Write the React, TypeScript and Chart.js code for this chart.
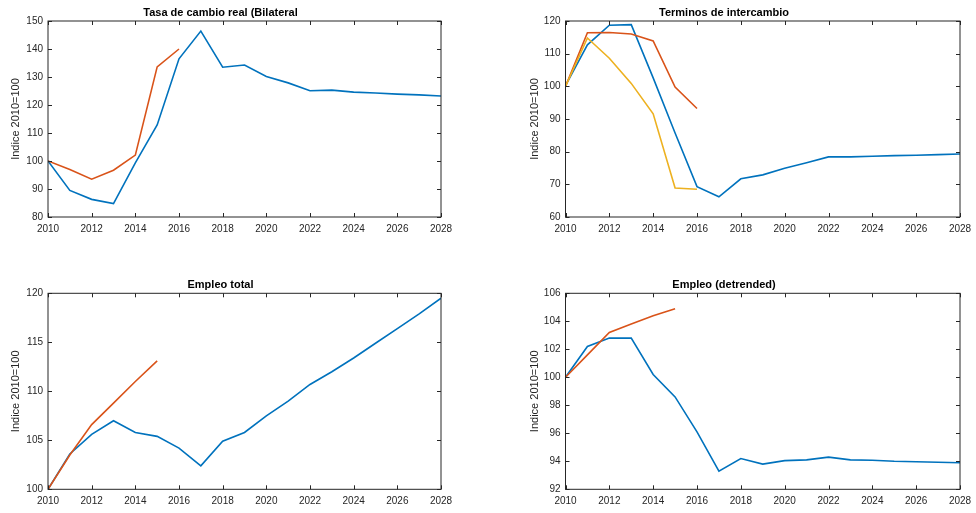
import React, { useEffect, useRef } from "react";
import { Chart, registerables } from "chart.js";

Chart.register(...registerables);

const years = [2010, 2011, 2012, 2013, 2014, 2015, 2016, 2017, 2018, 2019, 2020, 2021, 2022, 2023, 2024, 2025, 2026, 2027, 2028];

// Tasa de cambio real (Bilateral)
const tcrBlue = [100, 89.5, 86.3, 84.8, 99.3, 112.9, 136.5, 146.4, 133.5, 134.3, 130.2, 127.9, 125.1, 125.3, 124.6, 124.3, 123.9, 123.6, 123.2];
const tcrOrange = [100, 97.0, 93.5, 96.7, 102.1, 133.6, 140.0];

// Terminos de intercambio
const tdiBlue = [100.2, 112.7, 118.7, 118.9, 102.6, 85.7, 69.3, 66.2, 71.7, 72.9, 74.9, 76.6, 78.4, 78.4, 78.6, 78.8, 78.9, 79.1, 79.3];
const tdiOrange = [100, 116.4, 116.5, 116.0, 113.9, 99.8, 93.2];
const tdiYellow = [100, 114.8, 108.6, 100.9, 91.6, 68.9, 68.5];

// Empleo total
const empBlue = [100, 103.6, 105.6, 107.0, 105.8, 105.4, 104.2, 102.4, 104.9, 105.8, 107.5, 109.0, 110.7, 112.0, 113.4, 114.9, 116.4, 117.9, 119.5];
const empOrange = [100, 103.5, 106.6, 108.8, 111.0, 113.1];

// Empleo (detrended)
const detBlue = [100, 102.2, 102.8, 102.8, 100.2, 98.6, 96.1, 93.3, 94.2, 93.8, 94.05, 94.1, 94.3, 94.1, 94.07, 94.0, 93.97, 93.93, 93.9];
const detOrange = [100, 101.6, 103.2, 103.8, 104.4, 104.9];

const BLUE = "#0072BD";
const ORANGE = "#D95319";
const YELLOW = "#EDB120";
const AXIS = "#262626";
const FONT = "'Liberation Sans', Arial, Helvetica, sans-serif";

type Series = { values: number[]; color: string };

type Panel = {
  title: string;
  canvas: { l: number; t: number; w: number; h: number };
  plot: { l: number; r: number; t: number; b: number };
  titleY: number;
  axisTitleX: number;
  yMin: number;
  yMax: number;
  yStep: number;
  series: Series[];
};

const panels: Panel[] = [
  {
    title: "Tasa de cambio real (Bilateral",
    canvas: { l: 0, t: 0, w: 488, h: 256 },
    plot: { l: 48, r: 441, t: 21, b: 217 },
    titleY: 13.3,
    axisTitleX: 15.7,
    yMin: 80,
    yMax: 150,
    yStep: 10,
    series: [
      { values: tcrBlue, color: BLUE },
      { values: tcrOrange, color: ORANGE },
    ],
  },
  {
    title: "Terminos de intercambio",
    canvas: { l: 488, t: 0, w: 488, h: 256 },
    plot: { l: 565.5, r: 960, t: 21, b: 217 },
    titleY: 13.3,
    axisTitleX: 534.7,
    yMin: 60,
    yMax: 120,
    yStep: 10,
    series: [
      { values: tdiBlue, color: BLUE },
      { values: tdiOrange, color: ORANGE },
      { values: tdiYellow, color: YELLOW },
    ],
  },
  {
    title: "Empleo total",
    canvas: { l: 0, t: 256, w: 488, h: 257 },
    plot: { l: 48, r: 441, t: 293.3, b: 489.3 },
    titleY: 285.3,
    axisTitleX: 15.7,
    yMin: 100,
    yMax: 120,
    yStep: 5,
    series: [
      { values: empBlue, color: BLUE },
      { values: empOrange, color: ORANGE },
    ],
  },
  {
    title: "Empleo (detrended)",
    canvas: { l: 488, t: 256, w: 488, h: 257 },
    plot: { l: 565.5, r: 960, t: 293.3, b: 489.3 },
    titleY: 285.3,
    axisTitleX: 534.7,
    yMin: 92,
    yMax: 106,
    yStep: 2,
    series: [
      { values: detBlue, color: BLUE },
      { values: detOrange, color: ORANGE },
    ],
  },
];

const boxPlugin = {
  id: "matlabBox",
  afterDatasetsDraw(chart: any) {
    const { ctx, chartArea } = chart;
    const { left, right, top, bottom } = chartArea;
    const xs = chart.scales.x;
    const ys = chart.scales.y;
    const len = 4;
    ctx.save();
    ctx.strokeStyle = AXIS;
    ctx.lineWidth = 1;
    ctx.beginPath();
    xs.ticks.forEach((t: any) => {
      const px = Math.round(xs.getPixelForValue(t.value)) + 0.5;
      ctx.moveTo(px, bottom);
      ctx.lineTo(px, bottom - len);
      ctx.moveTo(px, top);
      ctx.lineTo(px, top + len);
    });
    ys.ticks.forEach((t: any) => {
      const py = Math.round(ys.getPixelForValue(t.value)) + 0.5;
      ctx.moveTo(left, py);
      ctx.lineTo(left + len, py);
      ctx.moveTo(right, py);
      ctx.lineTo(right - len, py);
    });
    ctx.stroke();
    ctx.strokeRect(left, top, right - left, bottom - top);
    ctx.restore();
  },
};

function PanelChart({ p }: { p: Panel }) {
  const ref = useRef<HTMLCanvasElement>(null);
  useEffect(() => {
    if (!ref.current) return;
    const yWidth = p.plot.l - p.canvas.l;
    const padRight = p.canvas.l + p.canvas.w - p.plot.r;
    const titleH = p.plot.t - p.canvas.t;
    const xHeight = p.canvas.t + p.canvas.h - p.plot.b;
    const titleLine = 11 * 1.2;
    const titlePadTop = p.titleY - p.canvas.t - titleLine / 2;
    const titlePadBottom = titleH - titleLine - titlePadTop;
    const axisTitlePad = p.axisTitleX - p.canvas.l - titleLine / 2;

    const datasets = p.series.map((s, i) => ({
      data: s.values.map((v, j) => ({ x: years[j], y: v })),
      borderColor: s.color,
      backgroundColor: s.color,
      borderWidth: 1.6,
      pointRadius: 0,
      tension: 0,
      fill: false,
      order: p.series.length - i,
    }));

    const chart = new Chart(ref.current, {
      type: "line",
      data: { datasets },
      plugins: [boxPlugin],
      options: {
        animation: false,
        responsive: false,
        devicePixelRatio: 1,
        layout: { padding: { left: 0, right: padRight, top: 0, bottom: 0 } },
        plugins: {
          legend: { display: false },
          tooltip: { enabled: false },
          title: {
            display: true,
            text: p.title,
            color: "#000000",
            font: { family: FONT, size: 11, weight: "bold", lineHeight: 1.2 },
            padding: { top: titlePadTop, bottom: titlePadBottom },
          },
        },
        scales: {
          x: {
            type: "linear",
            min: years[0],
            max: years[years.length - 1],
            grid: { display: false, drawTicks: false },
            border: { display: false },
            ticks: {
              stepSize: 2,
              padding: 6,
              color: AXIS,
              maxRotation: 0,
              autoSkip: false,
              font: { family: FONT, size: 10 },
              callback: (v: any) => String(v),
            },
            afterFit(scale: any) {
              scale.height = xHeight;
              scale.paddingLeft = 0;
              scale.paddingRight = 0;
            },
          },
          y: {
            type: "linear",
            min: p.yMin,
            max: p.yMax,
            grid: { display: false, drawTicks: false },
            border: { display: false },
            ticks: {
              stepSize: p.yStep,
              padding: 5,
              color: AXIS,
              font: { family: FONT, size: 10 },
              callback: (v: any) => String(v),
            },
            title: {
              display: true,
              text: "Indice 2010=100",
              color: AXIS,
              font: { family: FONT, size: 11, lineHeight: 1.2 },
              padding: { top: axisTitlePad, bottom: 0 },
            },
            afterFit(scale: any) {
              scale.width = yWidth;
              scale.paddingTop = 0;
              scale.paddingBottom = 0;
            },
          },
        },
      } as any,
    });
    return () => chart.destroy();
  }, [p]);

  return (
    <canvas
      ref={ref}
      width={p.canvas.w}
      height={p.canvas.h}
      style={{
        position: "absolute",
        left: p.canvas.l,
        top: p.canvas.t,
        width: p.canvas.w,
        height: p.canvas.h,
      }}
    />
  );
}

export default function App() {
  return (
    <div
      style={{
        position: "absolute",
        left: 0,
        top: 0,
        width: 976,
        height: 513,
        background: "#ffffff",
        overflow: "hidden",
      }}
    >
      {panels.map((p) => (
        <PanelChart key={p.title} p={p} />
      ))}
    </div>
  );
}
